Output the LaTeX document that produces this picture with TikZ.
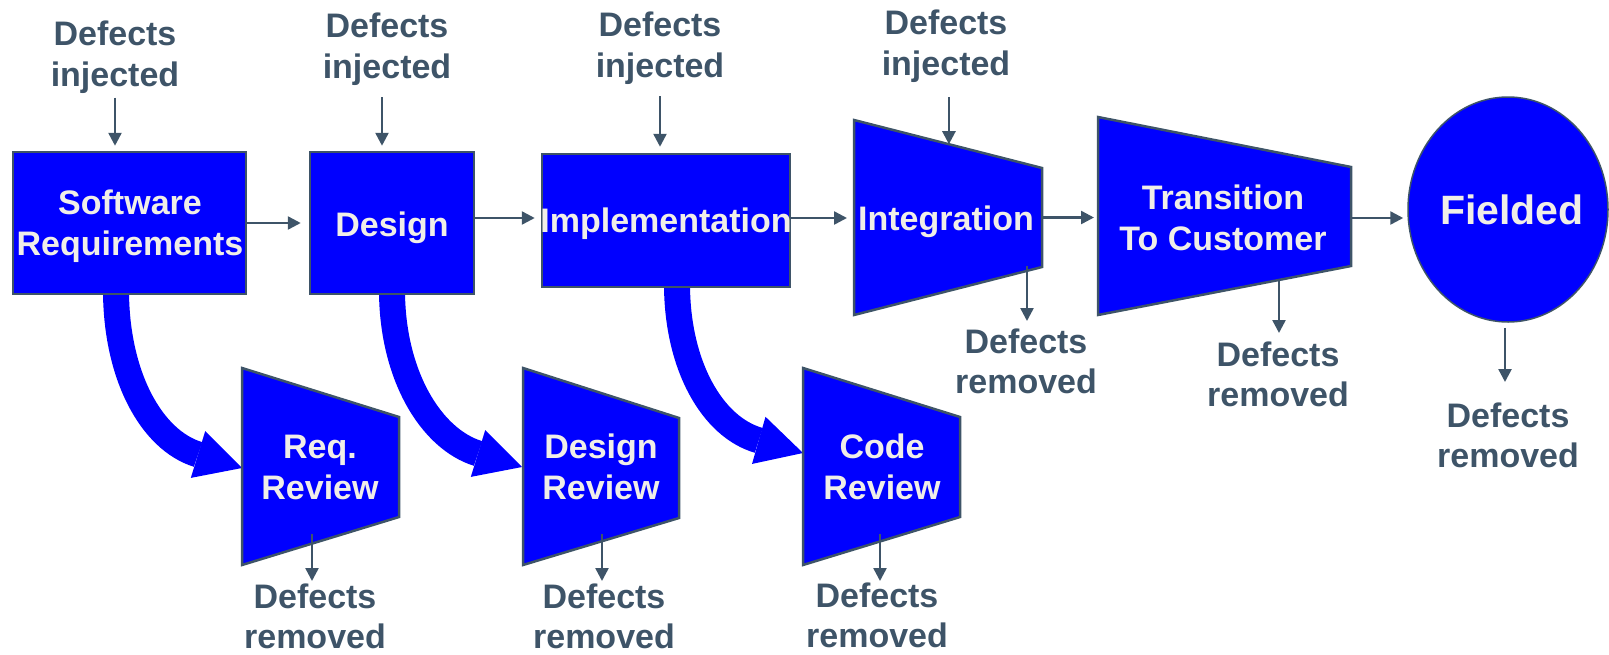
\documentclass[tikz,border=0pt]{standalone}
\usepackage{fontspec}
\setmainfont{Liberation Sans}
\usetikzlibrary{arrows.meta,shapes.geometric,calc}
\definecolor{slate}{RGB}{62,84,104}
\definecolor{pblue}{RGB}{0,0,255}
\definecolor{offw}{RGB}{240,238,232}
\begin{document}
\begin{tikzpicture}[x=1pt,y=-1pt,
  lbl/.style={font=\bfseries\fontsize{34}{41}\selectfont, text=slate, align=center, inner sep=0pt, anchor=north},
  remlbl/.style={font=\bfseries\fontsize{34}{39.5}\selectfont, text=slate, align=center, inner sep=0pt, anchor=north},
  intext/.style={font=\bfseries\fontsize{34}{41}\selectfont, text=offw, align=center, inner sep=0pt, anchor=north},
  box/.style={draw=slate, line width=2.5pt, fill=pblue, rectangle, inner sep=0pt},
  trap/.style={draw=slate, line width=2.5pt, fill=pblue, line join=miter},
  arr/.style={draw=slate, line width=2.5pt, -{Triangle[length=13pt,width=13pt]}},
  bigarr/.style={draw=pblue, line width=26pt, -{Triangle[length=46pt,width=49pt,line width=0pt]}}]
\useasboundingbox (0,0) rectangle (1609,654);

% anchor coordinates for the thick review arrows
\coordinate (srout) at (116,290);
\coordinate (desout) at (392,290);
\coordinate (implout) at (677,284);
\coordinate (rrin) at (242,468);
\coordinate (drin) at (522,467);
\coordinate (crin) at (803,453);

\draw[bigarr] (srout) .. controls +(0,85) and +(-91,-28) .. (rrin);
\draw[bigarr] (desout) .. controls +(0,85) and +(-91,-28) .. (drin);
\draw[bigarr] (implout) .. controls +(0,81) and +(-91,-26) .. (crin);

% main row shapes
\node[box, minimum width=233pt, minimum height=142pt] (sr) at (129.5,223) {};
\node[box, minimum width=164pt, minimum height=142pt] (des) at (392,223) {};
\node[box, minimum width=248pt, minimum height=133pt] (impl) at (666,220.5) {};
\draw[trap] (854,120) coordinate (intTL) -- (1042,168) coordinate (intTR) -- (1042,267) coordinate (intBR) -- (854,315) coordinate (intBL) -- cycle;
\coordinate (intW) at (854,218);
\coordinate (intE) at (1042,217.5);
\draw[trap] (1098,117) coordinate (trTL) -- (1351,167) coordinate (trTR) -- (1351,266) coordinate (trBR) -- (1098,315) coordinate (trBL) -- cycle;
\coordinate (transW) at (1098,217.5);
\coordinate (transE) at (1351,218);
\node[ellipse, draw=slate, line width=1.5pt, fill=pblue, minimum width=200pt, minimum height=225pt, inner sep=0pt] (fielded) at (1508,209.5) {};

% review shapes
\draw[trap] (242,368) -- (399,417) -- (399,517) -- (242,565) -- cycle;
\draw[trap] (523,368) -- (679,418) -- (679,518) -- (523,565) -- cycle;
\draw[trap] (803,368) -- (960,417) -- (960,517) -- (803,565) -- cycle;

% texts inside shapes
\node[intext] (srt) at (130,190) {Software\\Requirements};
\node[intext] (dest) at (392,212) {Design};
\node[intext] (implt) at (666,208) {Implementation};
\node[intext] (intt) at (946,206) {Integration};
\node[intext] (transt) at (1223,185) {Transition\\To Customer};
\node[font=\bfseries\fontsize{41}{49}\selectfont, text=offw, inner sep=0pt] (fldt) at (1512,210) {Fielded};
\node[intext] (rrt) at (320,435) {Req.\\Review};
\node[intext] (drt) at (601,434) {Design\\Review};
\node[intext] (crt) at (882,434) {Code\\Review};

% injected labels
\node[lbl] (inj1) at (115,21) {Defects\\injected};
\node[lbl] (inj2) at (387,13) {Defects\\injected};
\node[lbl] (inj3) at (660,12) {Defects\\injected};
\node[lbl] (inj4) at (946,10) {Defects\\injected};

% removed labels
\node[remlbl] (rem1) at (315,584) {Defects\\removed};
\node[remlbl] (rem2) at (604,584) {Defects\\removed};
\node[remlbl] (rem3) at (877,583) {Defects\\removed};
\node[remlbl] (rem4) at (1026,329) {Defects\\removed};
\node[remlbl] (rem5) at (1278,342) {Defects\\removed};
\node[remlbl] (rem6) at (1508,403) {Defects\\removed};

% injected arrows
\draw[arr, shorten <=3.6pt, shorten >=5pt] (inj1.south) -- (inj1.south |- sr.north);
\draw[arr, shorten <=11pt, shorten >=5pt] ([xshift=-5pt]inj2.south) -- ([xshift=-5pt]inj2.south |- des.north);
\draw[arr, shorten <=11pt, shorten >=6pt] (inj3.south) -- (inj3.south |- impl.north);
\path (intTL) -- (intTR) coordinate[pos=0.505] (inthit);
\draw[arr, shorten <=14pt] (inj4.south -| inthit) -- (inthit);

% flow arrows
\draw[arr, shorten >=8pt] (sr.east) -- (sr.east -| des.west);
\draw[arr, shorten >=6pt] ([yshift=5pt]des.east) -- ([yshift=5pt]des.east -| impl.west);
\draw[arr, shorten >=7pt] ([yshift=2.5pt]impl.east) -- ([yshift=2.5pt]impl.east -| intW);
\draw[arr, shorten >=4pt] (intE) -- (intE -| transW);
\draw[arr, shorten >=4pt] (transE) -- (transE -| fielded.west);

% removed arrows
\coordinate (rrout) at (312,534);
\coordinate (drout) at (602,534);
\coordinate (crout) at (880,534);
\coordinate (intout) at (1027,266);
\coordinate (trout) at (1279,279);
\draw[arr, shorten >=3pt] (rrout) -- (rrout |- rem1.north);
\draw[arr, shorten >=3pt] (drout) -- (drout |- rem2.north);
\draw[arr, shorten >=2pt] (crout) -- (crout |- rem3.north);
\draw[arr, shorten >=8pt] (intout) -- (intout |- rem4.north);
\draw[arr, shorten >=9pt] (trout) -- (trout |- rem5.north);
\draw[arr, shorten <=5pt, shorten >=21pt] ([xshift=-3pt]fielded.south) -- ([xshift=-3pt]fielded.south |- rem6.north);
\end{tikzpicture}
\end{document}
